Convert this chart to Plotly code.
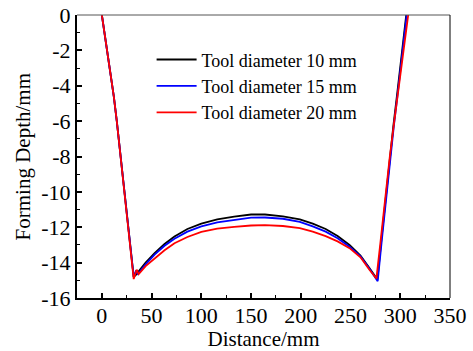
import plotly.graph_objects as go

# Forming depth profiles for three tool diameters
x_10 = [0, 3, 6, 9, 12, 15, 18, 23, 28, 30, 32, 34, 36, 44, 53, 63, 73, 86, 100, 116, 133,
        150, 164, 182, 199, 212, 225, 237, 249, 260, 269, 274, 277, 281, 285, 289, 293,
        297, 301, 304, 306]
y_10 = [0, -1.1, -2.3, -3.5, -4.6, -6.0, -7.6, -10.3, -13.0, -14.0, -14.8, -14.7, -14.55,
        -14.0, -13.46, -12.95, -12.52, -12.1, -11.8, -11.55, -11.4, -11.28, -11.28, -11.38,
        -11.55, -11.8, -12.1, -12.5, -13.0, -13.6, -14.3, -14.7, -14.95, -12.7, -10.5, -8.2,
        -6.3, -4.4, -2.5, -0.9, 0]

x_15 = [0, 3, 6, 9, 12, 15, 18, 23, 28, 30, 32, 34, 36.3, 44, 53, 63, 73, 86, 100, 116, 133,
        150, 164, 182, 199, 212, 225, 237, 249, 260, 269, 274, 277.3, 281.5, 285.5, 289.5,
        293.5, 297.5, 301.5, 304.5, 306.5]
y_15 = [0, -1.1, -2.3, -3.5, -4.6, -6.0, -7.6, -10.3, -13.0, -14.0, -14.8, -14.5, -14.65,
        -14.1, -13.55, -13.05, -12.65, -12.25, -11.95, -11.72, -11.58, -11.46, -11.45,
        -11.52, -11.7, -11.95, -12.25, -12.62, -13.1, -13.65, -14.35, -14.75, -15.05, -12.7,
        -10.5, -8.2, -6.3, -4.4, -2.5, -0.9, 0]

x_20 = [0, 3, 6, 9, 12, 15, 18, 23, 28, 30, 32, 35, 37, 44, 53, 63, 73, 86, 100, 116, 133,
        150, 164, 182, 199, 212, 225, 237, 249, 260, 269, 274, 276, 280, 284.5, 289.5, 294,
        298.5, 302.5, 306, 308]
y_20 = [0, -1.1, -2.3, -3.5, -4.6, -6.0, -7.6, -10.3, -13.0, -14.0, -14.93, -14.4, -14.65,
        -14.2, -13.75, -13.3, -12.9, -12.55, -12.26, -12.08, -11.98, -11.9, -11.88, -11.93,
        -12.05, -12.25, -12.5, -12.8, -13.18, -13.7, -14.4, -14.75, -14.9, -12.9, -10.5,
        -8.0, -6.0, -4.1, -2.3, -0.7, 0]

series = [
    ("Tool diameter 10 mm", x_10, y_10, "#000000"),
    ("Tool diameter 15 mm", x_15, y_15, "#0000ff"),
    ("Tool diameter 20 mm", x_20, y_20, "#ff0000"),
]

x_ticks = [0, 50, 100, 150, 200, 250, 300, 350]
y_ticks = [0, -2, -4, -6, -8, -10, -12, -14, -16]

FONT = "Liberation Serif, Times New Roman, serif"

fig = go.Figure()
for name, xs, ys, color in series:
    fig.add_trace(go.Scatter(x=xs, y=ys, mode="lines", name=name,
                             line=dict(color=color, width=1.8)))

axis_common = dict(
    showgrid=False, zeroline=False, showline=True, linecolor="black", linewidth=2,
    ticks="inside", ticklen=5, tickwidth=1.5, tickcolor="black", automargin=False,
    tickfont=dict(family=FONT, size=22, color="black"),
)

fig.update_xaxes(
    range=[-25, 350], tickvals=x_ticks, ticktext=[str(v) for v in x_ticks],
    minor=dict(ticks="inside", ticklen=3, tickwidth=1.2, tickcolor="black", dtick=25,
               tick0=-25),
    ticklabelstandoff=-3,
    title=dict(text="Distance/mm", font=dict(family=FONT, size=21, color="black")),
    **axis_common,
)
fig.update_yaxes(
    range=[-16, 0], tickvals=y_ticks, ticktext=[str(v) for v in y_ticks],
    minor=dict(ticks="inside", ticklen=3, tickwidth=1.2, tickcolor="black", dtick=1),
    ticklabelstandoff=0,
    **axis_common,
)

# y-axis title placed close to the tick labels
fig.add_annotation(text="Forming Depth/mm", xref="paper", yref="paper",
                   x=-0.145, y=0.5, xanchor="center", yanchor="middle",
                   textangle=-90, showarrow=False,
                   font=dict(family=FONT, size=21, color="black"))

# thin top and right frame lines
fig.add_shape(type="line", xref="paper", yref="paper", x0=0, x1=1, y0=1, y1=1,
              line=dict(color="#555555", width=1))
fig.add_shape(type="line", xref="paper", yref="paper", x0=1, x1=1, y0=0, y1=1,
              line=dict(color="black", width=1))

fig.update_layout(
    width=473, height=351,
    margin=dict(l=77, r=23, t=15, b=53),
    paper_bgcolor="white", plot_bgcolor="white",
    font=dict(family=FONT, color="black"),
    legend=dict(x=0.2, y=0.907, xanchor="left", yanchor="top",
                bgcolor="rgba(0,0,0,0)", font=dict(family=FONT, size=18),
                tracegroupgap=0, itemwidth=40),
)

fig.write_html("out.html")
